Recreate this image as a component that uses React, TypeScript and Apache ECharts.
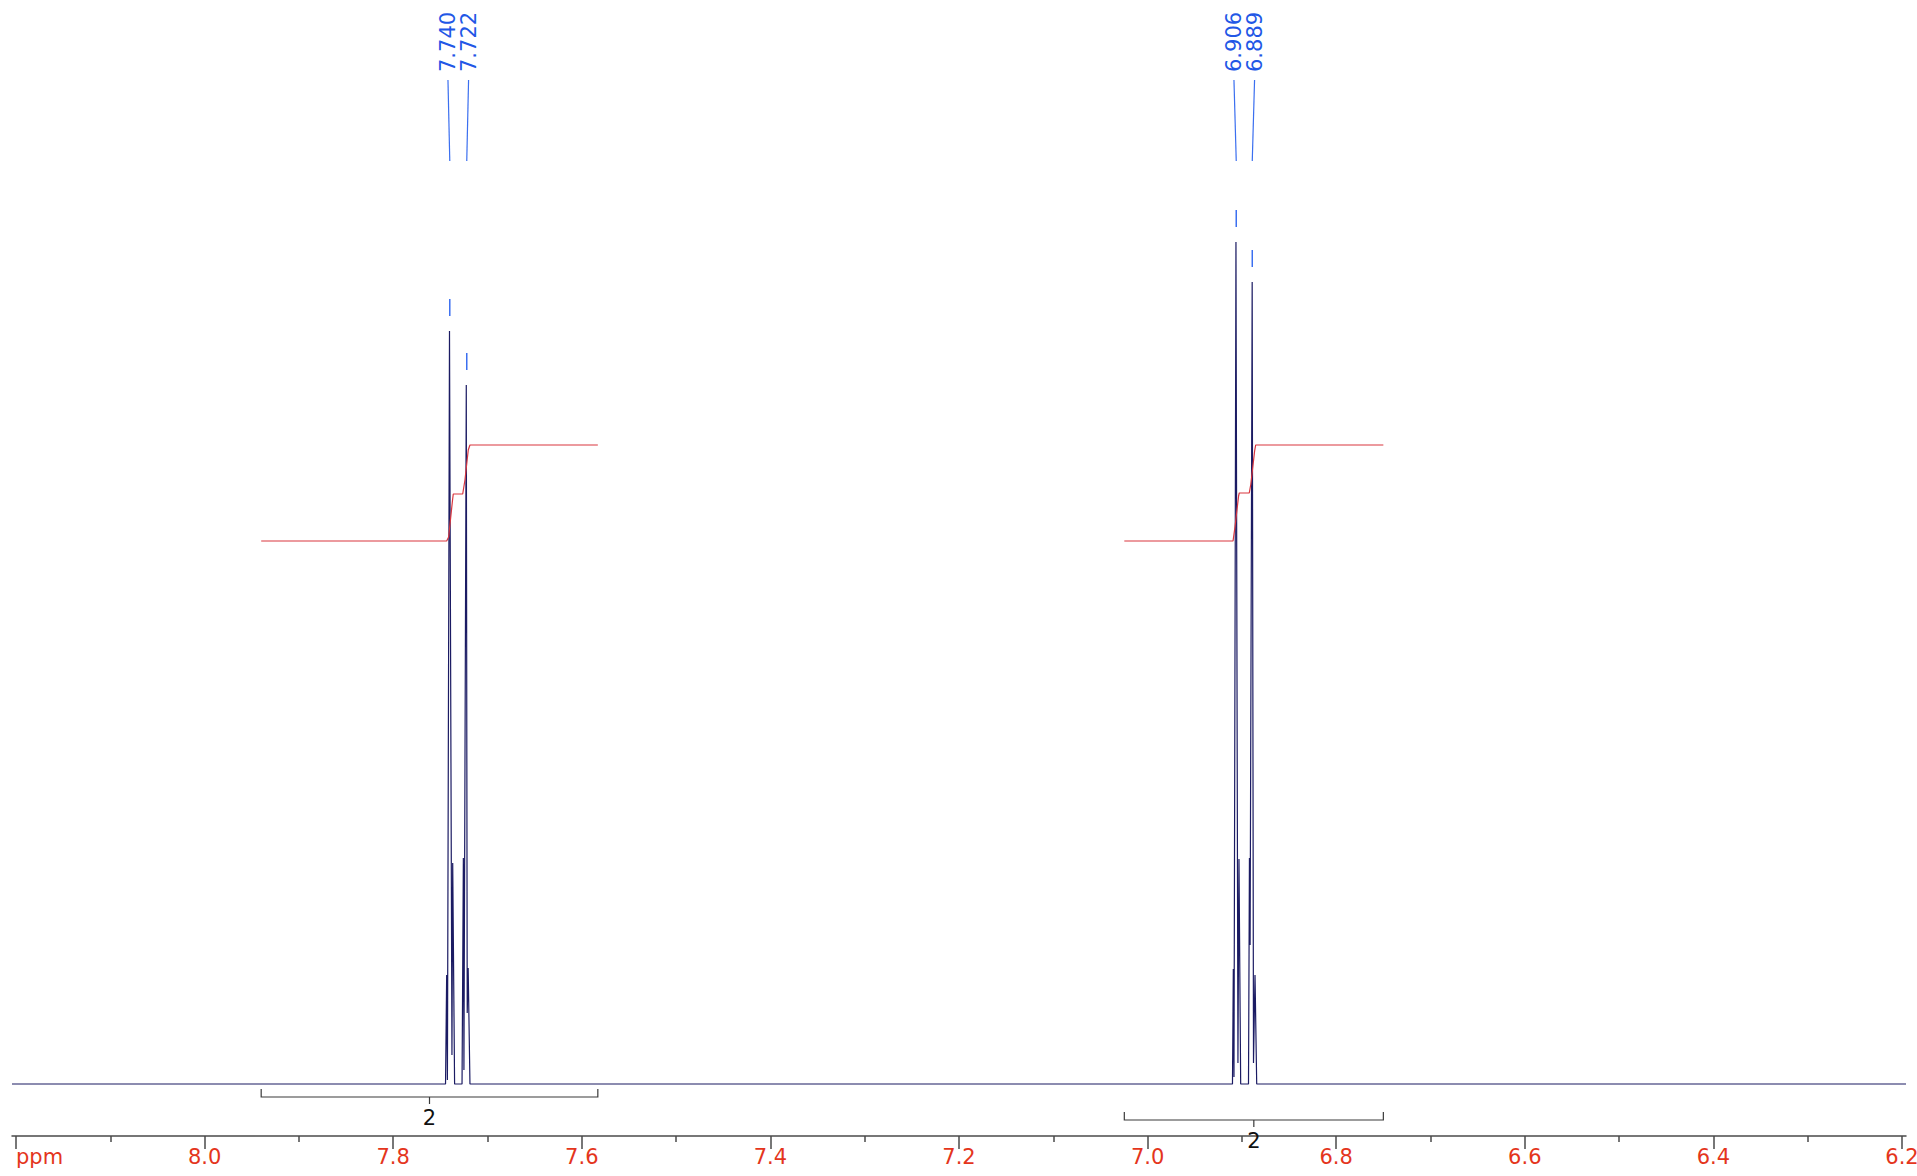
import React, { useEffect, useRef } from 'react';
import * as echarts from 'echarts';

// ---- data (ppm, intensity) ----
const SPECTRUM: [number, number][] = [
  [8.2043, 0],
  [7.7445, 0],
  [7.7433, 109],
  [7.7425, 4],
  [7.7403, 753],
  [7.7377, 29],
  [7.7369, 221],
  [7.7349, 0],
  [7.7270, 0],
  [7.7256, 226],
  [7.7250, 14],
  [7.7225, 699],
  [7.7215, 71],
  [7.7205, 116],
  [7.7186, 0],
  [6.9100, 0],
  [6.9091, 115],
  [6.9084, 7],
  [6.9063, 842],
  [6.9042, 21],
  [6.9031, 225],
  [6.9013, 0],
  [6.8930, 0],
  [6.8920, 226],
  [6.8913, 139],
  [6.8891, 802],
  [6.8877, 21],
  [6.8861, 109],
  [6.8843, 0],
  [6.1957, 0],
];

const INTEGRAL_CURVE_1: [number, number][] = [
  [7.9400, 543],
  [7.7433, 543],
  [7.7412, 547],
  [7.7373, 582],
  [7.7363, 590],
  [7.7263, 590],
  [7.7239, 604],
  [7.7204, 634],
  [7.7186, 639],
  [7.5830, 639],
];

const INTEGRAL_CURVE_2: [number, number][] = [
  [7.0247, 543],
  [6.9094, 543],
  [6.9072, 558],
  [6.9035, 588],
  [6.9028, 591],
  [6.8922, 591],
  [6.8905, 600],
  [6.8865, 633],
  [6.8854, 639],
  [6.7500, 639],
];

const INTEGRAL_FROM = [7.9400, 7.0247];
const INTEGRAL_TO = [7.5830, 6.7500];
const INTEGRAL_VALUES = ['2', '2'];

const PEAK_LABELS = [7.740, 7.722, 6.906, 6.889];

const MAJOR_TICKS = [6.2, 6.4, 6.6, 6.8, 7.0, 7.2, 7.4, 7.6, 7.8, 8.0, 8.2];
const MINOR_TICKS = [6.3, 6.5, 6.7, 6.9, 7.1, 7.3, 7.5, 7.7, 7.9, 8.1];

// ---- layout / style constants ----
const X_MIN = 6.19576;
const X_MAX = 8.20424;
const Y_MIN = -52;
const Y_MAX = 1084;
const BRACKET_LEVELS = [-13, -36];
const LABEL_SPREAD = 20.6;
const FONT = 'DejaVu Sans';

function peakHeight(ppm: number): number {
  let best = 0;
  for (const [x, y] of SPECTRUM) {
    if (Math.abs(x - ppm) < 0.0015 && y > best) best = y;
  }
  return best;
}

export default function App() {
  const ref = useRef<HTMLDivElement>(null);

  useEffect(() => {
    const chart = echarts.init(ref.current!, null, { renderer: 'svg' });

    const option: any = {
      animation: false,
      backgroundColor: '#ffffff',
      grid: { left: 12, right: 11, top: 0, bottom: 40, containLabel: false, outerBoundsMode: 'none' },
      xAxis: [
        {
          type: 'value',
          inverse: true,
          min: X_MIN,
          max: X_MAX,
          position: 'bottom',
          axisLine: { show: true, onZero: false, lineStyle: { color: '#4a4a4a', width: 1.5 } },
          axisTick: { show: true, customValues: MAJOR_TICKS, length: 13, lineStyle: { color: '#4a4a4a', width: 1.5 } },
          axisLabel: {
            show: true,
            customValues: MAJOR_TICKS,
            formatter: (v: number) => (Math.abs(v - 8.2) < 1e-6 ? 'ppm' : v.toFixed(1)),
            color: '#e4351c',
            fontSize: 21,
            fontFamily: FONT,
            margin: 10,
            alignMaxLabel: 'left',
            hideOverlap: false,
          },
          splitLine: { show: false },
        },
        {
          type: 'value',
          inverse: true,
          min: X_MIN,
          max: X_MAX,
          position: 'bottom',
          axisLine: { show: false, onZero: false },
          axisTick: { show: true, customValues: MINOR_TICKS, length: 6, lineStyle: { color: '#4a4a4a', width: 1.5 } },
          axisLabel: { show: false },
          splitLine: { show: false },
        },
      ],
      yAxis: { type: 'value', min: Y_MIN, max: Y_MAX, show: false },
      series: [
        {
          type: 'line',
          data: SPECTRUM,
          symbol: 'none',
          silent: true,
          lineStyle: { color: '#1b1b63', width: 1.2 },
          z: 3,
        },
        {
          type: 'line',
          data: INTEGRAL_CURVE_1,
          symbol: 'none',
          silent: true,
          lineStyle: { color: '#d9363e', width: 1.2 },
          z: 4,
        },
        {
          type: 'line',
          data: INTEGRAL_CURVE_2,
          symbol: 'none',
          silent: true,
          lineStyle: { color: '#d9363e', width: 1.2 },
          z: 4,
        },
        {
          type: 'custom',
          coordinateSystem: 'cartesian2d',
          silent: true,
          clip: false,
          data: PEAK_LABELS.map((p) => [p, peakHeight(p)]),
          renderItem: (params: any, api: any) => {
            const i = params.dataIndex;
            const pt = api.coord([api.value(0), api.value(1)]);
            const px = pt[0];
            const py = pt[1];
            const s = i - (i % 2);
            const xa = api.coord([PEAK_LABELS[s], 0])[0];
            const xb = api.coord([PEAK_LABELS[s + 1], 0])[0];
            const mid = (xa + xb) / 2;
            const lx = mid + (i % 2 === 0 ? -1 : 1) * (LABEL_SPREAD / 2);
            return {
              type: 'group',
              children: [
                {
                  type: 'text',
                  x: lx,
                  y: 72,
                  rotation: Math.PI / 2,
                  style: {
                    text: PEAK_LABELS[i].toFixed(3),
                    fill: '#2257e6',
                    fontSize: 21,
                    fontFamily: FONT,
                    align: 'left',
                    verticalAlign: 'middle',
                  },
                },
                {
                  type: 'line',
                  shape: { x1: lx, y1: 80, x2: px, y2: 161 },
                  style: { stroke: '#3b6ff0', lineWidth: 1.2 },
                },
                {
                  type: 'line',
                  shape: { x1: px, y1: py - 32, x2: px, y2: py - 15 },
                  style: { stroke: '#3b6ff0', lineWidth: 1.5 },
                },
              ],
            };
          },
        },
        {
          type: 'custom',
          coordinateSystem: 'cartesian2d',
          silent: true,
          clip: false,
          data: INTEGRAL_FROM.map((f, i) => [f, BRACKET_LEVELS[i], INTEGRAL_TO[i]]),
          renderItem: (params: any, api: any) => {
            const i = params.dataIndex;
            const level = api.value(1);
            const p1 = api.coord([api.value(0), level]);
            const p2 = api.coord([api.value(2), level]);
            const y = p1[1];
            const x1 = p1[0];
            const x2 = p2[0];
            const xc = (x1 + x2) / 2;
            return {
              type: 'group',
              children: [
                {
                  type: 'polyline',
                  shape: { points: [[x1, y - 8], [x1, y], [x2, y], [x2, y - 8]] },
                  style: { stroke: '#3a3a3a', lineWidth: 1.2, fill: 'none' },
                },
                {
                  type: 'line',
                  shape: { x1: xc, y1: y, x2: xc, y2: y + 7 },
                  style: { stroke: '#3a3a3a', lineWidth: 1.2 },
                },
                {
                  type: 'text',
                  x: xc,
                  y: y + 21,
                  style: {
                    text: INTEGRAL_VALUES[i],
                    fill: '#111111',
                    fontSize: 21,
                    fontFamily: FONT,
                    align: 'center',
                    verticalAlign: 'middle',
                  },
                },
              ],
            };
          },
        },
      ],
    };

    chart.setOption(option);
    return () => chart.dispose();
  }, []);

  return (
    <div
      ref={ref}
      style={{ position: 'fixed', left: 0, top: 0, width: 1917, height: 1176, background: '#ffffff' }}
    />
  );
}
